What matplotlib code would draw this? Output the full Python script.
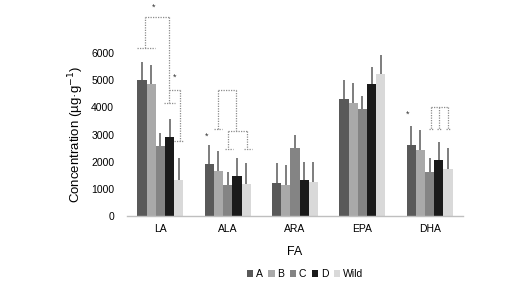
import matplotlib
matplotlib.use("Agg")
import matplotlib.pyplot as plt
import numpy as np

plt.rcParams['font.family'] = ['Liberation Sans', 'DejaVu Sans']

categories = ["LA", "ALA", "ARA", "EPA", "DHA"]
series_names = ["A", "B", "C", "D", "Wild"]
A = [5000, 1900, 1190, 4300, 2610]
B = [4870, 1660, 1120, 4170, 2430]
C = [2570, 1120, 2500, 3940, 1610]
D = [2900, 1470, 1300, 4870, 2060]
Wild = [1310, 1170, 1230, 5230, 1710]
A_err = [700, 710, 740, 720, 720]
B_err = [700, 730, 740, 730, 740]
C_err = [500, 490, 490, 500, 510]
D_err = [660, 650, 670, 640, 650]
Wild_err = [810, 760, 770, 730, 780]
yticks = [0, 1000, 2000, 3000, 4000, 5000, 6000]

values = [A, B, C, D, Wild]
errors = [A_err, B_err, C_err, D_err, Wild_err]
colors = ["#595959", "#a9a9a9", "#848484", "#1a1a1a", "#d9d9d9"]

fig = plt.figure(figsize=(5.28, 2.89), dpi=100)
ax = fig.add_axes([0.24, 0.2543, 0.6375, 0.5606])

x = np.arange(len(categories))
w = 0.137
for i, (vals, errs, col, name) in enumerate(zip(values, errors, colors, series_names)):
    xi = x + (i - 2) * w
    ax.bar(xi, vals, width=w, color=col, label=name, zorder=2)
    ax.errorbar(xi, vals, yerr=[np.zeros(len(errs)), errs], fmt='none',
                ecolor="#5a5a5a", elinewidth=1.1, capsize=0, zorder=3)

ax.set_xlim(-0.5, 4.5)
ax.set_ylim(0, 6000)
ax.set_yticks(yticks)
ax.set_yticklabels([str(t) for t in yticks], fontsize=7.5)
ax.set_xticks(x)
ax.set_xticklabels(categories, fontsize=7.5)
ax.tick_params(axis='both', length=0)
ax.tick_params(axis='y', pad=9)
ax.tick_params(axis='x', pad=6)
for s in ["top", "right", "left"]:
    ax.spines[s].set_visible(False)
ax.spines["bottom"].set_color("#bfbfbf")
ax.spines["bottom"].set_linewidth(1.0)

ax.set_ylabel("Concentration (µg·g$^{-1}$)", fontsize=9.5, labelpad=4)
ax.set_xlabel("FA", fontsize=9, labelpad=9)

# significance brackets
bk = dict(color="#8c8c8c", linestyle=(0, (1, 1)), linewidth=0.9, clip_on=False, zorder=4)
segs = [
    # LA bracket 1
    ([-0.351, -0.079], [6215, 6215]),
    ([-0.227, -0.227], [6215, 7341]),
    ([-0.227, 0.134], [7341, 7341]),
    ([0.134, 0.134], [7341, 4156]),
    ([0.059, 0.218], [4156, 4156]),
    # LA bracket 2
    ([0.134, 0.293], [4648, 4648]),
    ([0.293, 0.293], [4648, 2759]),
    ([0.204, 0.352], [2759, 2759]),
    # ALA big bracket
    ([0.801, 0.917], [3215, 3215]),
    ([0.850, 0.850], [3215, 4659]),
    ([0.850, 1.120], [4659, 4659]),
    ([1.120, 1.120], [4659, 3130]),
    # ALA second bracket
    ([1.010, 1.288], [3130, 3130]),
    ([1.010, 1.010], [3130, 2452]),
    ([1.288, 1.288], [3130, 2452]),
    ([0.966, 1.085], [2452, 2452]),
    ([1.244, 1.358], [2452, 2452]),
    # DHA bracket
    ([4.015, 4.279], [4000, 4000]),
    ([4.015, 4.015], [4000, 3204]),
    ([4.146, 4.146], [4000, 3204]),
    ([4.279, 4.279], [4000, 3204]),
    ([3.985, 4.045], [3204, 3204]),
    ([4.116, 4.176], [3204, 3204]),
    ([4.249, 4.309], [3204, 3204]),
]
for xs, ys in segs:
    ax.plot(xs, ys, **bk)

stars = [(-0.094, 7711), (0.204, 5119), (0.689, 2944), (3.676, 3759)]
for sx, sy in stars:
    ax.text(sx, sy, "*", ha="center", va="center", fontsize=6.5, color="#303030", clip_on=False)

ax.legend(loc="center", bbox_to_anchor=(0.53, -0.361), ncol=5, frameon=False,
          fontsize=7.5, handlelength=0.6, handleheight=0.6, handletextpad=0.25,
          columnspacing=0.55, borderaxespad=0)

fig.savefig("out.png", dpi=100)
